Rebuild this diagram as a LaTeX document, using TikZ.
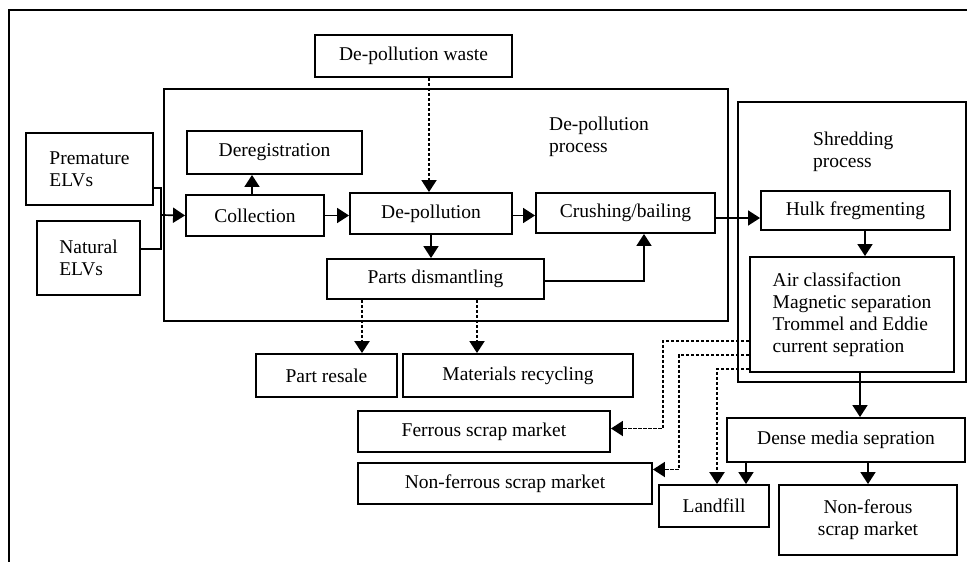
\documentclass[tikz,border=0pt]{standalone}
\usepackage{fontspec}
\setmainfont{Liberation Serif}
\usetikzlibrary{arrows.meta,positioning}
\tikzstyle{block} = [rectangle, draw, line width=1.9pt, inner sep=0pt, align=center, font=\fontsize{19.5}{22}\selectfont]
\tikzstyle{group} = [rectangle, draw, line width=1.9pt, inner sep=0pt]
\tikzstyle{caption} = [inner sep=0pt, align=left, font=\fontsize{19.5}{22}\selectfont]
\tikzstyle{link} = [draw, line width=1.7pt]
\tikzstyle{line} = [draw, line width=1.7pt, -{Triangle[length=12pt,width=15pt]}]
\tikzstyle{dline} = [line, line width=1.9pt, dash pattern=on 3.5pt off 1.5pt]

\begin{document}
\begin{tikzpicture}[x=1pt, y=-1pt]
		\useasboundingbox (0,0) rectangle (967,562);
		\draw [line width=2.6pt] (9,562) -- (9,10) -- (967,10);

		% process frames
		\node [group, minimum width=564pt, minimum height=232pt] (depgrp) at (446,205) {};
		\node [group, minimum width=228pt, minimum height=280pt] (shrgrp) at (852,242) {};
		\node [caption, anchor=north west] (deplabel) at (549,117) {De-pollution\\process};
		\node [caption, anchor=north west] (shrlabel) at (813,132) {Shredding\\process};

		% inputs
		\node [block, minimum width=127pt, minimum height=72pt, align=left] (prem) at (89.5,169) {Premature\\ELVs};
		\node [block, minimum width=103pt, minimum height=74pt, align=left] (nat) at (88.5,258) {Natural\\ELVs};
		\coordinate (join) at (161,215);
		\path [link] ([yshift=-19pt]prem.east) -| (join);
		\path [link] ([yshift=9pt]nat.east) -| (join);

		% de-pollution process
		\node [block, minimum width=197pt, minimum height=42pt] (waste) at (413.5,56) {De-pollution waste};
		\node [block, minimum width=138pt, minimum height=41pt] (coll) at (255,215.5) {Collection};
		\node [block, minimum width=175pt, minimum height=43pt] (dereg) at (274.5,152.5) {Deregistration};
		\node [block, minimum width=162pt, minimum height=41pt] (depoll) at (431,213.5) {De-pollution};
		\node [block, minimum width=217pt, minimum height=40pt] (parts) at (435.5,279) {Parts dismantling};
		\node [block, minimum width=179pt, minimum height=40pt] (crush) at (625.5,213) {Crushing/bailing};

		\path [line] (join) -- (coll.west);
		\path [line] ([xshift=-3pt]coll.north) -- ([xshift=-3pt]coll.north |- dereg.south);
		\path [line] (coll.east) -- (coll.east -| depoll.west);
		\path [dline] ([xshift=-2pt]depoll.north |- waste.south) -- ([xshift=-2pt]depoll.north);
		\path [line] (depoll.south) -- (depoll.south |- parts.north);
		\path [line] ([yshift=-2pt]depoll.east) -- ([yshift=-2pt]depoll.east -| crush.west);
		\path [line] ([yshift=-2pt]parts.east) -| ([xshift=18.5pt]crush.south);

		% outputs of dismantling
		\node [block, minimum width=141pt, minimum height=43pt] (resale) at (326.5,375.5) {Part resale};
		\node [block, minimum width=230pt, minimum height=43pt] (matrec) at (518,375.5) {Materials recycling};
		\path [dline, line width=2.3pt] ([xshift=-73.5pt]parts.south) -- ([xshift=-73.5pt]parts.south |- resale.north);
		\path [dline] ([xshift=41.5pt]parts.south) -- ([xshift=41.5pt]parts.south |- matrec.north);

		% shredding process
		\node [block, minimum width=189pt, minimum height=39pt] (hulk) at (855.5,210.5) {Hulk fregmenting};
		\node [block, minimum width=204pt, minimum height=115pt, align=left] (air) at (852,314.5) {Air classifaction\\Magnetic separation\\Trommel and Eddie\\current sepration};
		\path [line] ([yshift=-5pt]crush.east) -- ([yshift=-5pt]crush.east -| hulk.west);
		\path [line] ([xshift=9.5pt]hulk.south) -- ([xshift=9.5pt]hulk.south |- air.north);

		\node [block, minimum width=238pt, minimum height=44pt] (dense) at (846,440) {Dense media sepration};
		\node [block, minimum width=110pt, minimum height=42pt] (landfill) at (714,506) {Landfill};
		\node [block, minimum width=178pt, minimum height=70pt] (nonfer) at (868,520) {Non-ferous\\scrap market};
		\node [block, minimum width=252pt, minimum height=41pt] (ferrous) at (484,431.5) {Ferrous scrap market};
		\node [block, minimum width=294pt, minimum height=41pt] (nonferr) at (505,483.5) {Non-ferrous scrap market};

		\path [line] ([xshift=8pt]air.south) -- ([xshift=8pt]air.south |- dense.north);
		\path [line] ([xshift=32pt]landfill.north |- dense.south) -- ([xshift=32pt]landfill.north);
		\path [line] (nonfer.north |- dense.south) -- (nonfer.north);

		\path [dline] ([yshift=-26.5pt]air.west) -| ([xshift=52pt,yshift=3pt]ferrous.east) -- ([yshift=3pt]ferrous.east);
		\path [dline] ([yshift=-40.5pt]air.west) -| ([xshift=26pt,yshift=14pt]nonferr.east) -- ([yshift=14pt]nonferr.east);
		\path [dline, line width=2.4pt] ([yshift=-54.5pt]air.west) -| ([xshift=3pt]landfill.north);
	\end{tikzpicture}
\end{document}
